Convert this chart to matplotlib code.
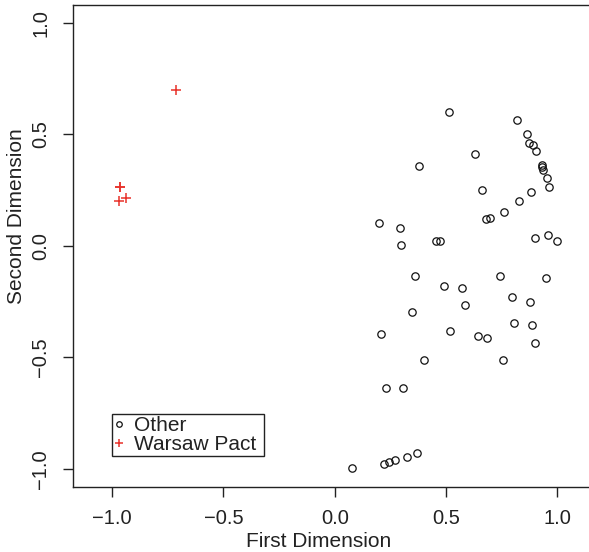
import matplotlib
matplotlib.use("Agg")
import matplotlib.pyplot as plt

plt.rcParams['font.family'] = ['Liberation Sans', 'DejaVu Sans']

# scaled coordinates, non-aligned countries
other_x = [0.513, 0.820, 0.863, 0.872, 0.892, 0.903, 0.930, 0.933, 0.937, 0.632,
           0.380, 0.952, 0.963, 0.662, 0.881, 0.828, 0.760, 0.678, 0.696, 0.199,
           0.295, 0.298, 0.456, 0.472, 0.900, 0.958, 1.000, 0.362, 0.744, 0.949,
           0.492, 0.573, 0.797, 0.876, 0.587, 0.349, 0.807, 0.886, 0.208, 0.518,
           0.642, 0.684, 0.901, 0.403, 0.756, 0.230, 0.305, 0.078, 0.223, 0.245,
           0.272, 0.325, 0.370]
other_y = [0.602, 0.566, 0.500, 0.463, 0.451, 0.427, 0.362, 0.353, 0.342, 0.414,
           0.360, 0.303, 0.263, 0.250, 0.241, 0.200, 0.153, 0.120, 0.126, 0.101,
           0.081, 0.005, 0.023, 0.023, 0.037, 0.047, 0.020, -0.133, -0.133, -0.144,
           -0.180, -0.189, -0.230, -0.254, -0.263, -0.298, -0.347, -0.353, -0.397, -0.384,
           -0.406, -0.415, -0.436, -0.514, -0.514, -0.638, -0.639, -0.997, -0.976, -0.970,
           -0.961, -0.946, -0.928]

# Warsaw Pact members
wp_x = [-0.713, -0.966, -0.964, -0.970, -0.939]
wp_y = [0.699, 0.263, 0.265, 0.200, 0.214]

W, H = 589, 552
fig = plt.figure(figsize=(W / 100, H / 100), dpi=100)
# box runs off the right edge of the figure
left, right, bottom, top = 72.7, 599, 486.7, 5
ax = fig.add_axes([left / W, (H - bottom) / H, (right - left) / W, (bottom - top) / H])

ax.plot(other_x, other_y, linestyle='none', marker='o', markersize=5.3,
        markerfacecolor='none', markeredgecolor='#111111', markeredgewidth=0.9,
        label='Other')
ax.plot(wp_x, wp_y, linestyle='none', marker='+', markersize=7,
        color='#e8312a', markeredgewidth=1.1, label='Warsaw Pact')

ax.set_xlim(-1.177, 1.187)
ax.set_ylim(-1.08, 1.08)
ticks = [-1.0, -0.5, 0.0, 0.5, 1.0]
ax.set_xticks(ticks)
ax.set_yticks(ticks)
ax.set_xticklabels([f"{t:.1f}".replace('-', '\u2212') for t in ticks])
ax.set_yticklabels([f"{t:.1f}".replace('-', '\u2212') for t in ticks],
                   rotation=90, va='center')

for s in ax.spines.values():
    s.set_linewidth(1.0)
    s.set_color('#222222')
ax.tick_params(length=7, width=1.0, color='#222222', labelsize=14.5,
               labelcolor='#222222', pad=9)

ax.set_xlabel('First Dimension', fontsize=15, color='#222222')
ax.set_ylabel('Second Dimension', fontsize=15, color='#222222')
ax.xaxis.set_label_coords(0.468, -0.094)
ax.yaxis.set_label_coords(-0.088, 0.562)

leg = ax.legend(loc='lower left',
                bbox_to_anchor=((111.7 - left) / (right - left), (bottom - 456) / (bottom - top)),
                borderaxespad=0, fancybox=False, framealpha=1, edgecolor='#222222',
                fontsize=15, handlelength=0.5, handletextpad=0.45, borderpad=0.1,
                labelspacing=0.0, markerscale=0.75)
leg.get_frame().set_linewidth(1.0)
for t in leg.get_texts():
    t.set_color('#222222')
leg.get_texts()[1].set_text('Warsaw Pact ')

fig.savefig('out.png', dpi=100)
